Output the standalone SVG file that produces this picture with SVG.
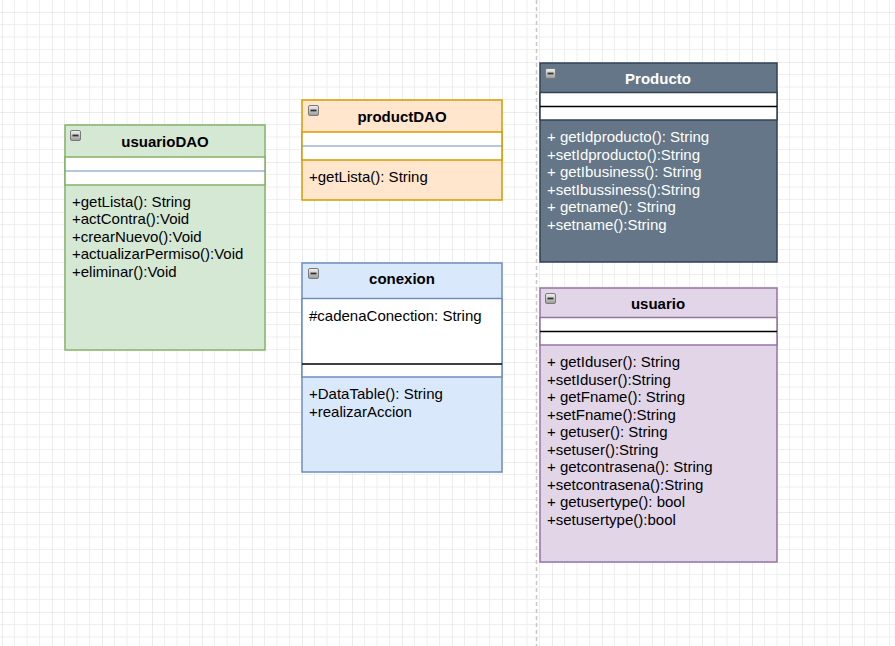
<svg xmlns="http://www.w3.org/2000/svg" width="895" height="646" viewBox="0 0 895 646">
<defs>
  <pattern id="grid" x="2" y="12" width="50" height="50" patternUnits="userSpaceOnUse">
    <path d="M12.5 0V50M25 0V50M37.5 0V50M0 12.5H50M0 25H50M0 37.5H50" stroke="#efefef" stroke-width="1" fill="none"/>
    <path d="M0 0V50M0 0H50" stroke="#dadada" stroke-width="1" fill="none"/>
  </pattern>
  <linearGradient id="icon" x1="0" y1="0" x2="0" y2="1">
    <stop offset="0" stop-color="#f4f4f4"/>
    <stop offset="1" stop-color="#9a9a9a"/>
  </linearGradient>
  <g id="collapse">
    <rect x="0.5" y="0.5" width="10" height="10" rx="1.5" fill="url(#icon)" stroke="#7a7a7a" stroke-width="1"/>
    <rect x="2.5" y="4.6" width="6" height="1.8" fill="#333"/>
  </g>
</defs>
<style>
  .t{font-family:"Liberation Sans",Arial,sans-serif;font-size:15px;fill:#000}
  .h{font-family:"Liberation Sans",Arial,sans-serif;font-size:15px;font-weight:bold;fill:#000;text-anchor:middle}
  .w{fill:#fff}
  .white{fill:#fff}
</style>
<rect width="895" height="646" fill="#fff"/>
<rect width="895" height="646" fill="url(#grid)"/>
<line x1="536.5" y1="0" x2="536.5" y2="646" stroke="#c8c8c8" stroke-width="1.5" stroke-dasharray="4 3"/>

<g id="connectors"></g>

<g id="usuarioDAO">
  <rect x="65" y="125" width="200" height="225" fill="#d5e8d4" stroke="#82b366" stroke-width="1.5"/>
  <rect x="65" y="157" width="200" height="28" class="white" stroke="#82b366" stroke-width="1.5"/>
  <line x1="65" y1="171" x2="265" y2="171" stroke="#6c8ebf" stroke-width="1.2"/>
  <use href="#collapse" x="70" y="130"/>
  <text class="h" x="165" y="146.5">usuarioDAO</text>
  <text class="t" x="72" y="206.5">+getLista(): String</text>
  <text class="t" x="72" y="224">+actContra():Void</text>
  <text class="t" x="72" y="241.5">+crearNuevo():Void</text>
  <text class="t" x="72" y="259">+actualizarPermiso():Void</text>
  <text class="t" x="72" y="276.5">+eliminar():Void</text>
</g>

<g id="productDAO">
  <rect x="302" y="100" width="200" height="100" fill="#ffe6cc" stroke="#d79b00" stroke-width="1.5"/>
  <rect x="302" y="132" width="200" height="28" class="white" stroke="#d79b00" stroke-width="1.5"/>
  <line x1="302" y1="146" x2="502" y2="146" stroke="#6c8ebf" stroke-width="1.2"/>
  <use href="#collapse" x="308" y="105"/>
  <text class="h" x="402" y="121.5">productDAO</text>
  <text class="t" x="309" y="182">+getLista(): String</text>
</g>

<g id="conexion">
  <rect x="302" y="263" width="200" height="209" fill="#dae8fc" stroke="#6c8ebf" stroke-width="1.5"/>
  <rect x="302" y="298.5" width="200" height="78.5" class="white" stroke="#6c8ebf" stroke-width="1.5"/>
  <line x1="302" y1="364" x2="502" y2="364" stroke="#000" stroke-width="1.5"/>
  <use href="#collapse" x="308" y="268"/>
  <text class="h" x="402" y="284">conexion</text>
  <text class="t" x="309" y="321">#cadenaConection: String</text>
  <text class="t" x="309" y="399">+DataTable(): String</text>
  <text class="t" x="309" y="416.5">+realizarAccion</text>
</g>

<g id="Producto">
  <rect x="540" y="63" width="237" height="199" fill="#647687" stroke="#314354" stroke-width="1.5"/>
  <rect x="540" y="92.5" width="237" height="27.5" class="white" stroke="#314354" stroke-width="1.5"/>
  <line x1="540" y1="106.5" x2="777" y2="106.5" stroke="#000" stroke-width="1.5"/>
  <use href="#collapse" x="545" y="68"/>
  <text class="h w" x="658" y="84" style="fill:#fff">Producto</text>
  <text class="t" x="547" y="142" style="fill:#fff">+ getIdproducto(): String</text>
  <text class="t" x="547" y="159.5" style="fill:#fff">+setIdproducto():String</text>
  <text class="t" x="547" y="177" style="fill:#fff">+ getIbusiness(): String</text>
  <text class="t" x="547" y="194.5" style="fill:#fff">+setIbussiness():String</text>
  <text class="t" x="547" y="212" style="fill:#fff">+ getname(): String</text>
  <text class="t" x="547" y="229.5" style="fill:#fff">+setname():String</text>
</g>

<g id="usuario">
  <rect x="540" y="288" width="237" height="274" fill="#e1d5e7" stroke="#9673a6" stroke-width="1.5"/>
  <rect x="540" y="317.5" width="237" height="27.5" class="white" stroke="#9673a6" stroke-width="1.5"/>
  <line x1="540" y1="331.5" x2="777" y2="331.5" stroke="#000" stroke-width="1.5"/>
  <use href="#collapse" x="545" y="293"/>
  <text class="h" x="658" y="309">usuario</text>
  <text class="t" x="547" y="367">+ getIduser(): String</text>
  <text class="t" x="547" y="384.5">+setIduser():String</text>
  <text class="t" x="547" y="402">+ getFname(): String</text>
  <text class="t" x="547" y="419.5">+setFname():String</text>
  <text class="t" x="547" y="437">+ getuser(): String</text>
  <text class="t" x="547" y="454.5">+setuser():String</text>
  <text class="t" x="547" y="472">+ getcontrasena(): String</text>
  <text class="t" x="547" y="489.5">+setcontrasena():String</text>
  <text class="t" x="547" y="507">+ getusertype(): bool</text>
  <text class="t" x="547" y="524.5">+setusertype():bool</text>
</g>
</svg>
